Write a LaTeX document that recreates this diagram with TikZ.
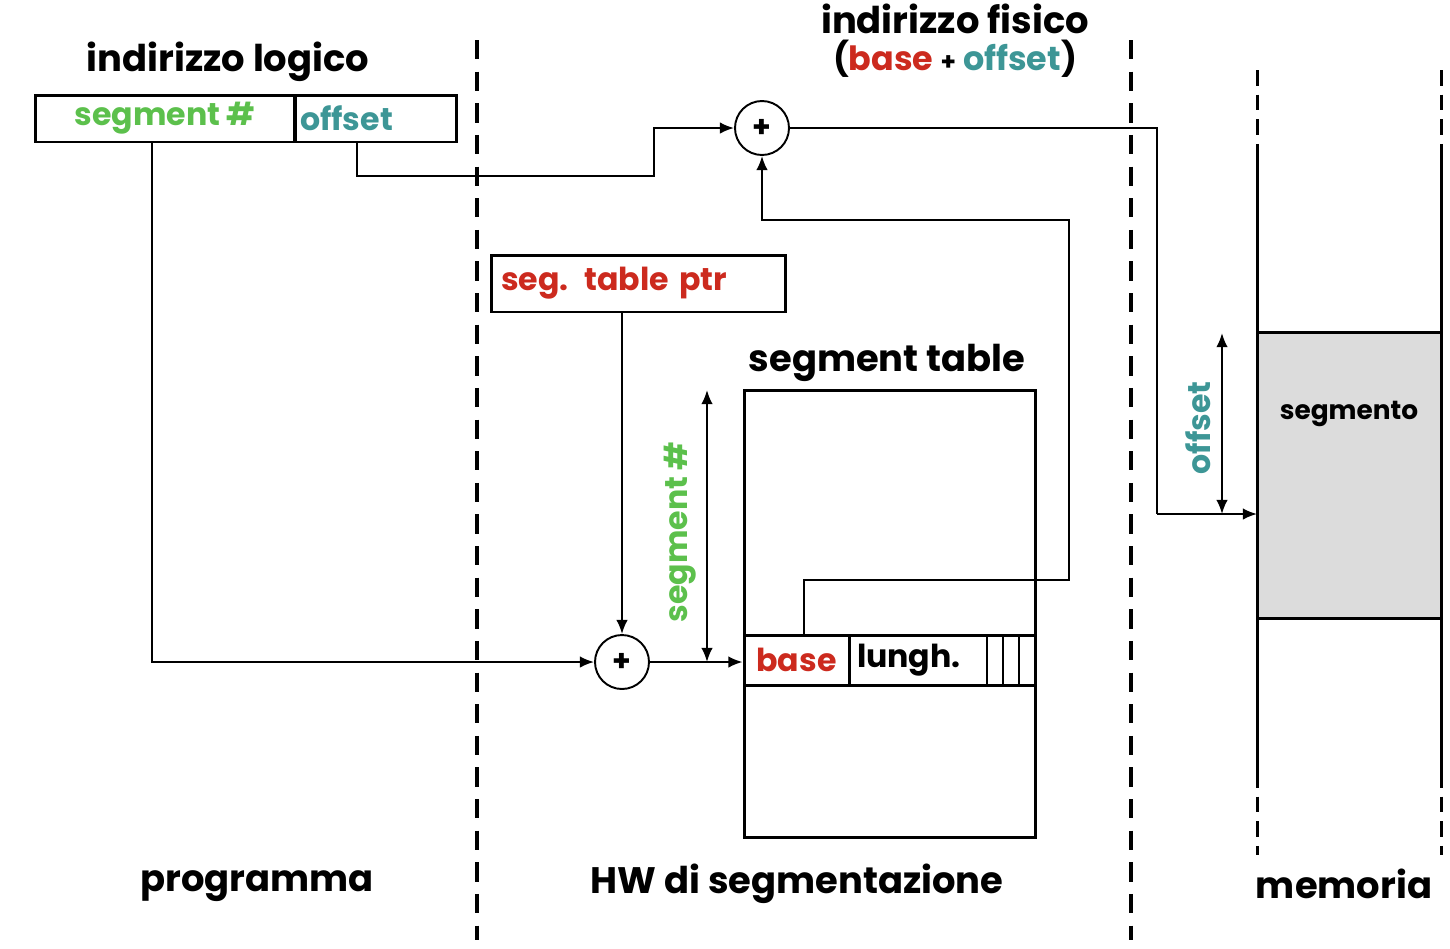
\documentclass[tikz,border=0pt]{standalone}
\usepackage{fontspec}
\setmainfont{Poppins}
\usetikzlibrary{calc,arrows.meta}

\definecolor{segGreen}{HTML}{5CC04C}
\definecolor{offTeal}{HTML}{3D9696}
\definecolor{baseRed}{HTML}{CC2A1E}
\definecolor{memGray}{HTML}{DCDCDC}

\tikzset{
  title/.style={font=\bfseries\fontsize{21}{24}\selectfont},
  subtitle/.style={font=\bfseries\fontsize{19}{22}\selectfont},
  field/.style={font=\bfseries\fontsize{18}{20}\selectfont},
  small/.style={font=\bfseries\fontsize{15}{17}\selectfont},
  cell/.style={draw, line width=1.7pt, rectangle, inner sep=0pt},
  conn/.style={line width=1.1pt, >={Latex[length=8pt,width=6.5pt]}},
  sum/.style={draw, circle, line width=1.1pt, minimum size=1.08cm, inner sep=0pt, font=\bfseries\fontsize{17}{17}\selectfont},
  sep/.style={line width=2.3pt, dash pattern=on 11pt off 7pt},
  wall/.style={line width=1.7pt}
}

\begin{document}
\begin{tikzpicture}[x=0.02cm, y=-0.02cm]
\useasboundingbox (0,0) rectangle (1450,948);

% Separators
\draw[sep] (477,40) -- (477,940);
\draw[sep] (1131,40) -- (1131,940);

% Logical address
\node[title] (logtitle) at (228,62) {indirizzo logico};
\node[cell, field, text=segGreen, minimum width=5.2cm, minimum height=0.94cm] (segnum) at (165,118.5) {segment \#};
\node[cell, field, text=offTeal, minimum width=3.24cm, minimum height=0.94cm, text width=3.04cm, inner xsep=0.1cm, align=left] (off) at (376,118.5) {offset};

% Physical address
\node[title] (phystitle) at (955,19) {indirizzo fisico};
\node[subtitle] (physsub) at (955,59) {(\textcolor{baseRed}{base} {\fontsize{14}{14}\selectfont+} \textcolor{offTeal}{offset})};

% Adders
\node[sum] (plusT) at (762,128) {+};
\node[sum] (plusB) at (622,662) {+};

% Segment table pointer
\node[cell, field, text=baseRed, minimum height=1.14cm, text width=5.5cm, inner xsep=0.2cm, align=left] (ptr) at (638.5,283.5) {seg. table ptr};

% Segment table
\node[title] (tabtitle) at (887,363) {segment table};
\node[cell, minimum width=5.84cm, minimum height=8.96cm] (tab) at (890,614) {};
\node[cell, field, text=baseRed, minimum width=2.1cm, minimum height=1cm] (base) at (796.5,660) {base};
\node[cell, field, minimum width=3.74cm, minimum height=1cm, text width=3.42cm, inner xsep=0.16cm, align=left] (lungh) at (942.5,660) {lungh.};
\foreach \x in {987,1003,1019}
  \draw[conn] (\x,635) -- (\x,685);

% Memory
\node[cell, fill=memGray, minimum width=3.68cm, minimum height=5.74cm] (seg) at (1349,475.5) {};
\node[small] (segtxt) at (1349,414) {segmento};
\foreach \x in {1257,1441} {
  \draw[wall] (\x,150) -- (\x,772);
  \draw[wall, dash pattern=on 9pt off 5pt] (\x,70) -- (\x,150);
  \draw[wall, dash pattern=on 9pt off 5pt] (\x,772) -- (\x,855);
}

% Segment number path
\draw[conn,->] ($(segnum.south)+(-13,0)$) |- (plusB.west);

% Offset path
\coordinate (offbend) at (654,176);
\draw[conn,->] ($(off.south)+(-19,0)$) |- (offbend) |- (plusT.west);

% Table pointer into adder
\draw[conn,->] (ptr.south -| plusB) -- (plusB.north);

% Adder into table entry
\draw[conn,->] (plusB.east) -- (plusB.east -| base.west);

% Base back up to physical adder
\coordinate (baseup) at (1069,580);
\coordinate (basetop) at (1069,220);
\draw[conn,->] ($(base.north)+(7.5,0)$) |- (baseup) -- (basetop) -| (plusT.south);

% Physical address into memory
\coordinate (memturn) at (1157,514);
\coordinate (memin) at (1257,514);
\draw[conn] (plusT.east) -| (memturn);
\draw[conn,->] (memturn) -- (memin);

% Segment # span
\coordinate (spantop) at (707,390);
\coordinate (spanbot) at (707,662);
\draw[conn,<->] (spantop) -- (spanbot);
\node[field, text=segGreen, rotate=90] (spanlbl) at (680,532) {segment \#};

% Offset span
\coordinate (offtop) at (1222,333);
\coordinate (offbot) at (1222,514);
\draw[conn,<->] (offtop) -- (offbot);
\node[field, text=offTeal, rotate=90] (offlbl) at (1198,428) {offset};

% Bottom labels
\node[title] (prog) at (257,886) {programma};
\node[title] (hw) at (797,884) {HW di segmentazione};
\node[title] (mem) at (1344,884) {memoria};
\end{tikzpicture}
\end{document}
